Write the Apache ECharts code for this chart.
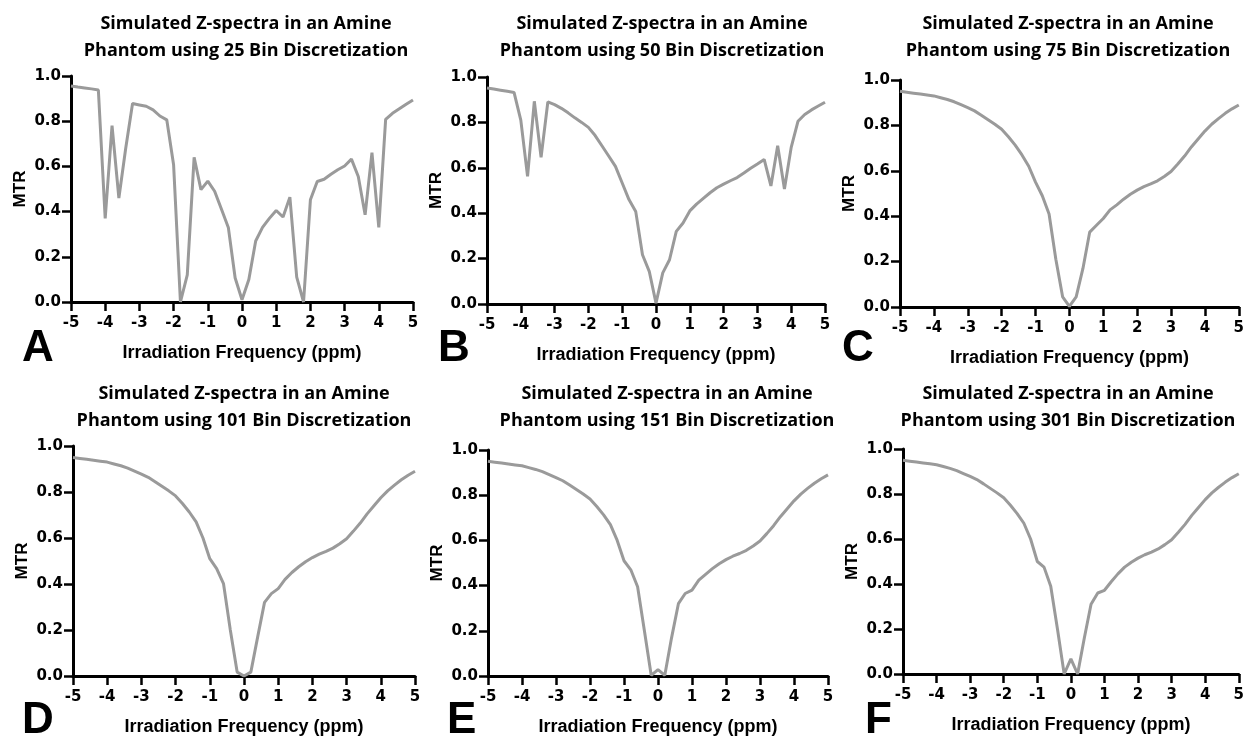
<!DOCTYPE html>
<html>
<head>
<meta charset="utf-8">
<script src="https://cdn.jsdelivr.net/npm/echarts@6/dist/echarts.min.js"></script>
<style>
  html, body { margin: 0; padding: 0; background: #fff; }
  #chart { width: 1247px; height: 745px; }
</style>
</head>
<body>
<div id="chart"></div>
<script>
// irradiation frequency (ppm), shared by all panels
const freq = [-5, -4.8, -4.6, -4.4, -4.2, -4, -3.8, -3.6, -3.4, -3.2, -3, -2.8, -2.6, -2.4, -2.2, -2, -1.8, -1.6, -1.4, -1.2, -1,
  -0.8, -0.6, -0.4, -0.2, 0, 0.2, 0.4, 0.6, 0.8, 1, 1.2, 1.4, 1.6, 1.8, 2, 2.2, 2.4, 2.6, 2.8, 3, 3.2, 3.4, 3.6, 3.8, 4,
  4.2, 4.4, 4.6, 4.8, 5]

const mtr25 = [0.956, 0.951, 0.947, 0.943, 0.938, 0.37, 0.78, 0.46, 0.68, 0.878, 0.872, 0.866, 0.85, 0.823, 0.806, 0.607, 0.0,
  0.12, 0.64, 0.497, 0.535, 0.49, 0.41, 0.33, 0.106, 0.01, 0.1, 0.27, 0.33, 0.37, 0.405, 0.376, 0.464, 0.11, 0.0, 0.452,
  0.533, 0.543, 0.565, 0.585, 0.602, 0.632, 0.555, 0.386, 0.661, 0.33, 0.808, 0.835, 0.855, 0.875, 0.894]

const mtr50 = [0.952, 0.947, 0.942, 0.937, 0.932, 0.81, 0.562, 0.893, 0.646, 0.89, 0.878, 0.862, 0.842, 0.82, 0.8, 0.778, 0.742,
  0.697, 0.652, 0.606, 0.533, 0.46, 0.408, 0.217, 0.144, 0.004, 0.137, 0.195, 0.32, 0.357, 0.41, 0.44, 0.465, 0.49, 0.512,
  0.528, 0.543, 0.557, 0.577, 0.598, 0.617, 0.637, 0.52, 0.697, 0.507, 0.69, 0.805, 0.835, 0.855, 0.872, 0.889]

const mtr75 = [0.95, 0.946, 0.942, 0.938, 0.934, 0.93, 0.922, 0.914, 0.904, 0.891, 0.878, 0.864, 0.845, 0.825, 0.805, 0.783, 0.75,
  0.713, 0.67, 0.62, 0.55, 0.49, 0.41, 0.21, 0.045, 0.003, 0.045, 0.17, 0.33, 0.36, 0.39, 0.428, 0.45, 0.475, 0.497,
  0.515, 0.53, 0.542, 0.556, 0.575, 0.597, 0.63, 0.665, 0.705, 0.74, 0.775, 0.805, 0.83, 0.853, 0.873, 0.89]

const mtr101 = [0.95, 0.946, 0.942, 0.938, 0.934, 0.93, 0.922, 0.914, 0.904, 0.891, 0.878, 0.864, 0.845, 0.825, 0.805, 0.783, 0.75,
  0.713, 0.67, 0.6, 0.51, 0.467, 0.402, 0.2, 0.017, 0.0, 0.017, 0.17, 0.32, 0.358, 0.38, 0.42, 0.45, 0.475, 0.497,
  0.515, 0.53, 0.542, 0.556, 0.575, 0.597, 0.63, 0.665, 0.705, 0.74, 0.775, 0.805, 0.83, 0.853, 0.873, 0.89]

const mtr151 = [0.95, 0.946, 0.942, 0.938, 0.934, 0.93, 0.922, 0.914, 0.904, 0.891, 0.878, 0.864, 0.845, 0.825, 0.805, 0.783, 0.75,
  0.713, 0.67, 0.6, 0.51, 0.47, 0.395, 0.2, 0.003, 0.028, 0.003, 0.17, 0.32, 0.365, 0.38, 0.424, 0.45, 0.475, 0.497,
  0.515, 0.53, 0.542, 0.556, 0.575, 0.597, 0.63, 0.665, 0.705, 0.74, 0.775, 0.805, 0.83, 0.853, 0.873, 0.89]

const mtr301 = [0.95, 0.946, 0.942, 0.938, 0.934, 0.93, 0.922, 0.914, 0.904, 0.891, 0.878, 0.864, 0.845, 0.825, 0.805, 0.783, 0.75,
  0.713, 0.67, 0.6, 0.5, 0.475, 0.39, 0.2, 0.0, 0.067, 0.0, 0.16, 0.31, 0.36, 0.372, 0.41, 0.445, 0.475, 0.497,
  0.515, 0.53, 0.542, 0.556, 0.575, 0.597, 0.63, 0.665, 0.705, 0.74, 0.775, 0.805, 0.83, 0.853, 0.873, 0.89]

const bins = ['25', '50', '75', '101', '151', '301']
const panelLetters = ['A', 'B', 'C', 'D', 'E', 'F']
const xTicks = [-5, -4, -3, -2, -1, 0, 1, 2, 3, 4, 5]
const yTicks = ['0.0', '0.2', '0.4', '0.6', '0.8', '1.0']

const panelData = [mtr25, mtr50, mtr75, mtr101, mtr151, mtr301]

const grids = [
  { left: 71, top: 76, width: 342, height: 226 },
  { left: 487, top: 77, width: 338, height: 227 },
  { left: 900, top: 80, width: 339, height: 227 },
  { left: 73, top: 446, width: 342, height: 230 },
  { left: 488, top: 450, width: 340, height: 226 },
  { left: 903, top: 449, width: 338, height: 225 }
]
const titlePos = [[246, 37], [662, 37], [1068, 37], [244, 407], [667, 407], [1068, 407]]
const letterPos = [[22, 349], [438, 349], [842, 349], [22, 721], [447, 721], [865, 721]]

const chart = echarts.init(document.getElementById('chart'))

const nameFont = { color: '#000', fontWeight: 'bold', fontFamily: 'Liberation Sans, Arial, sans-serif' }
const tickFont = { color: '#000', fontWeight: 'bold', fontFamily: 'DejaVu Sans, sans-serif', fontSize: 15 }

const option = {
  animation: false,
  backgroundColor: '#fff',
  grid: grids,
  xAxis: grids.map((g, i) => ({
    type: 'value',
    gridIndex: i,
    min: -5,
    max: 5,
    interval: 1,
    name: 'Irradiation Frequency (ppm)',
    nameLocation: 'middle',
    nameGap: 42,
    nameTextStyle: { ...nameFont, fontSize: 18 },
    axisLine: { show: true, onZero: false, lineStyle: { color: '#000', width: 3 } },
    axisTick: { show: true, length: 9, lineStyle: { color: '#000', width: 2.5 } },
    axisLabel: { ...tickFont, margin: 14, formatter: v => xTicks.includes(v) ? String(v) : '' },
    splitLine: { show: false }
  })),
  yAxis: grids.map((g, i) => ({
    type: 'value',
    gridIndex: i,
    min: 0,
    max: 1,
    interval: 0.2,
    name: 'MTR',
    nameLocation: 'middle',
    nameGap: 42,
    nameRotate: 90,
    nameTextStyle: { ...nameFont, fontSize: 17 },
    axisLine: { show: true, onZero: false, lineStyle: { color: '#000', width: 3 } },
    axisTick: { show: true, length: 9, lineStyle: { color: '#000', width: 2.5 } },
    axisLabel: { ...tickFont, margin: 10, formatter: v => yTicks[Math.round(v * 5)] },
    splitLine: { show: false }
  })),
  series: panelData.map((vals, i) => ({
    type: 'line',
    xAxisIndex: i,
    yAxisIndex: i,
    showSymbol: false,
    data: freq.map((f, k) => [f, vals[k]]),
    lineStyle: { color: '#9a9a9a', width: 3 },
    itemStyle: { color: '#9a9a9a' }
  })),
  graphic: [
    ...bins.map((b, i) => ({
      type: 'text',
      x: titlePos[i][0],
      y: titlePos[i][1],
      style: {
        text: 'Simulated Z-spectra in an Amine\nPhantom using ' + b + ' Bin Discretization',
        fill: '#000',
        fontSize: 18,
        fontWeight: 'bold',
        fontFamily: 'Open Sans, sans-serif',
        lineHeight: 27,
        align: 'center',
        textAlign: 'center',
        verticalAlign: 'middle',
        textVerticalAlign: 'middle'
      }
    })),
    ...panelLetters.map((l, i) => ({
      type: 'text',
      x: letterPos[i][0],
      y: letterPos[i][1],
      style: {
        text: l,
        fill: '#000',
        fontSize: 44,
        fontWeight: 'bold',
        fontFamily: 'Liberation Sans, Arial, sans-serif',
        align: 'left',
        textAlign: 'left',
        verticalAlign: 'middle',
        textVerticalAlign: 'middle'
      }
    }))
  ]
}

chart.setOption(option)
</script>
</body>
</html>
